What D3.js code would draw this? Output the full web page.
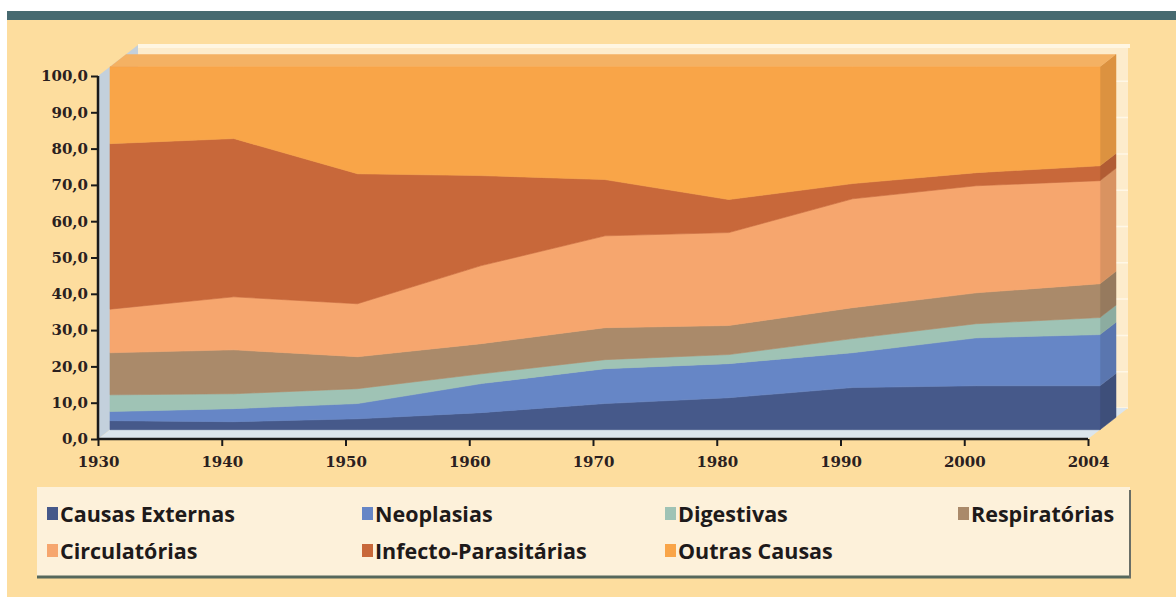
<html><head>
<meta charset="utf-8">
<script src="https://d3js.org/d3.v7.min.js"></script>
<style>
  body { margin: 0; background: #ffffff; }
  svg text { font-family: "DejaVu Serif", serif; }
</style>
</head>
<body>
<svg id="chart" width="1176" height="597"></svg>
<script>
  // data (percent of deaths)
  const years = ["1930", "1940", "1950", "1960", "1970", "1980", "1990", "2000", "2004"];
  const causasExternas = [2.5, 2.2, 3.0, 4.7, 7.2, 8.8, 11.6, 12.1, 12.1];
  const neoplasias = [2.5, 3.6, 4.2, 8.0, 9.6, 9.4, 9.6, 13.2, 14.1];
  const digestivas = [4.6, 4.1, 4.1, 2.7, 2.5, 2.5, 3.9, 3.9, 4.7];
  const respiratorias = [11.6, 12.1, 8.8, 8.3, 8.8, 8.0, 8.5, 8.5, 9.3];
  const circulatorias = [12.0, 14.6, 14.6, 21.5, 25.3, 25.6, 30.0, 29.5, 28.4];
  const infecto = [45.6, 43.6, 35.8, 24.8, 15.5, 9.1, 4.2, 3.6, 4.1];
  const outras = [21.2, 19.8, 29.5, 30.0, 31.1, 36.6, 32.2, 29.2, 27.3];
  const yTicks = [0, 10, 20, 30, 40, 50, 60, 70, 80, 90, 100];

  const seriesNames = ["Causas Externas", "Neoplasias", "Digestivas", "Respiratórias",
                       "Circulatórias", "Infecto-Parasitárias", "Outras Causas"];
  const seriesValues = [causasExternas, neoplasias, digestivas, respiratorias,
                        circulatorias, infecto, outras];
  const colors = ["#46598a", "#6686c6", "#9fc3b5", "#aa8a6a", "#f6a66e", "#c8683a", "#f9a548"];

  const rows = years.map((yr, i) => {
    const r = { year: yr };
    seriesNames.forEach((n, k) => r[n] = seriesValues[k][i]);
    return r;
  });

  const svg = d3.select("#chart");

  // page background
  svg.append("rect").attr("x", 7).attr("y", 11).attr("width", 1169).attr("height", 586).attr("fill", "#fddd9e");
  svg.append("rect").attr("x", 7).attr("y", 11).attr("width", 1169).attr("height", 9).attr("fill", "#476a70");

  const x = d3.scalePoint().domain(years).range([98, 1088]);
  const y = d3.scaleLinear().domain([0, 100]).range([439, 76]);

  // 3D depth
  const dx = 40, dy = -31;
  const f0 = 0.3, f1 = 0.7;

  const x0 = x(years[0]), x1 = x(years[years.length - 1]);
  const pts = a => a.map(p => p.join(",")).join(" ");

  // back wall
  svg.append("polygon")
    .attr("points", pts([[x0 + dx, y(100) + dy], [x1 + dx, y(100) + dy], [x1 + dx, y(0) + dy], [x0 + dx, y(0) + dy]]))
    .attr("fill", "#fdeccc");
  svg.selectAll("line.grid").data(yTicks)
    .join("line")
    .attr("class", "grid")
    .attr("x1", x0 + dx).attr("x2", x1 + dx)
    .attr("y1", d => y(d) + dy).attr("y2", d => y(d) + dy)
    .attr("stroke", "#fff7e6").attr("stroke-width", 1.5);
  svg.append("line")
    .attr("x1", x0 + dx).attr("x2", x1 + dx + 2)
    .attr("y1", y(100) + dy + 1).attr("y2", y(100) + dy + 1)
    .attr("stroke", "#fff6e2").attr("stroke-width", 4);

  // left wall and floor
  svg.append("polygon")
    .attr("points", pts([[x0, y(0)], [x0, y(100)], [x0 + dx, y(100) + dy], [x0 + dx, y(0) + dy]]))
    .attr("fill", "#c3d0dc");
  svg.append("polygon")
    .attr("points", pts([[x0, y(0)], [x1, y(0)], [x1 + dx, y(0) + dy], [x0 + dx, y(0) + dy]]))
    .attr("fill", "#dbe5ec");

  const stacked = d3.stack().keys(seriesNames)(rows);

  // right side faces
  const last = years.length - 1;
  svg.selectAll("polygon.side").data(stacked)
    .join("polygon")
    .attr("class", "side")
    .attr("points", s => {
      const d = s[last];
      const xf = x(years[last]) + dx * f0, xb = x(years[last]) + dx * f1;
      return pts([[xf, y(d[0]) + dy * f0], [xf, y(d[1]) + dy * f0],
                  [xb, y(d[1]) + dy * f1], [xb, y(d[0]) + dy * f1]]);
    })
    .attr("fill", (s, i) => d3.color(colors[i]).darker(0.35))
    .attr("stroke", (s, i) => d3.color(colors[i]).darker(0.35))
    .attr("stroke-width", 0.5);

  // top face of the top series
  const topSeries = stacked[stacked.length - 1];
  const topFront = topSeries.map(d => [x(d.data.year) + dx * f0, y(d[1]) + dy * f0]);
  const topBack = topSeries.map(d => [x(d.data.year) + dx * f1, y(d[1]) + dy * f1]).reverse();
  svg.append("polygon")
    .attr("points", pts(topFront.concat(topBack)))
    .attr("fill", "#f4b163");

  // front faces
  const area = d3.area()
    .x(d => x(d.data.year) + dx * f0)
    .y0(d => y(d[0]) + dy * f0)
    .y1(d => y(d[1]) + dy * f0);

  svg.selectAll("path.front").data(stacked)
    .join("path")
    .attr("class", "front")
    .attr("fill", (s, i) => colors[i])
    .attr("stroke", (s, i) => colors[i])
    .attr("stroke-width", 0.6)
    .attr("d", area);

  // axes
  const fmt = d => d3.format(".1f")(d).replace(".", ",");
  const yAxis = svg.append("g")
    .attr("transform", `translate(${x0},0)`)
    .call(d3.axisLeft(y).tickValues(yTicks).tickFormat(fmt).tickSize(7).tickPadding(3));
  const xAxis = svg.append("g")
    .attr("transform", `translate(0,${y(0)})`)
    .call(d3.axisBottom(x).tickSize(7).tickPadding(10));

  [yAxis, xAxis].forEach(g => {
    g.select(".domain").attr("stroke", "#1a1a1a").attr("stroke-width", 2.5);
    g.selectAll(".tick line").attr("stroke", "#1a1a1a").attr("stroke-width", 2);
    g.selectAll("text")
      .attr("fill", "#2a2020")
      .style("font-family", "'DejaVu Serif', serif")
      .style("font-weight", "bold")
      .style("font-size", "15px");
  });
  yAxis.select(".domain").attr("d", `M0,${y(100)}V${y(0)}`);
  xAxis.select(".domain").attr("d", `M${x0},0H${x1}`);

  // legend
  const lg = svg.append("g");
  lg.append("rect").attr("x", 37).attr("y", 487).attr("width", 1093).attr("height", 90).attr("fill", "#fdf1da");
  lg.append("line").attr("x1", 37).attr("x2", 1131).attr("y1", 577).attr("y2", 577)
    .attr("stroke", "#56685c").attr("stroke-width", 3);
  lg.append("line").attr("x1", 1130).attr("x2", 1130).attr("y1", 490).attr("y2", 578)
    .attr("stroke", "#6a6e66").attr("stroke-width", 2);

  const colX = [47, 362, 665, 958];
  const rowY = [514, 551];
  const items = lg.selectAll("g.item").data(seriesNames)
    .join("g")
    .attr("class", "item")
    .attr("transform", (d, i) => `translate(${colX[i % 4]},${rowY[Math.floor(i / 4)]})`);
  items.append("rect")
    .attr("x", 0).attr("y", -7).attr("width", 11).attr("height", 13)
    .attr("fill", (d, i) => colors[i]);
  items.append("text")
    .attr("x", 13).attr("y", 7.5)
    .style("font-family", "'Open Sans', sans-serif")
    .style("font-weight", "bold")
    .style("font-size", "21.5px")
    .attr("fill", "#1e1a1a")
    .text(d => d);
</script>
</body>
</html>
